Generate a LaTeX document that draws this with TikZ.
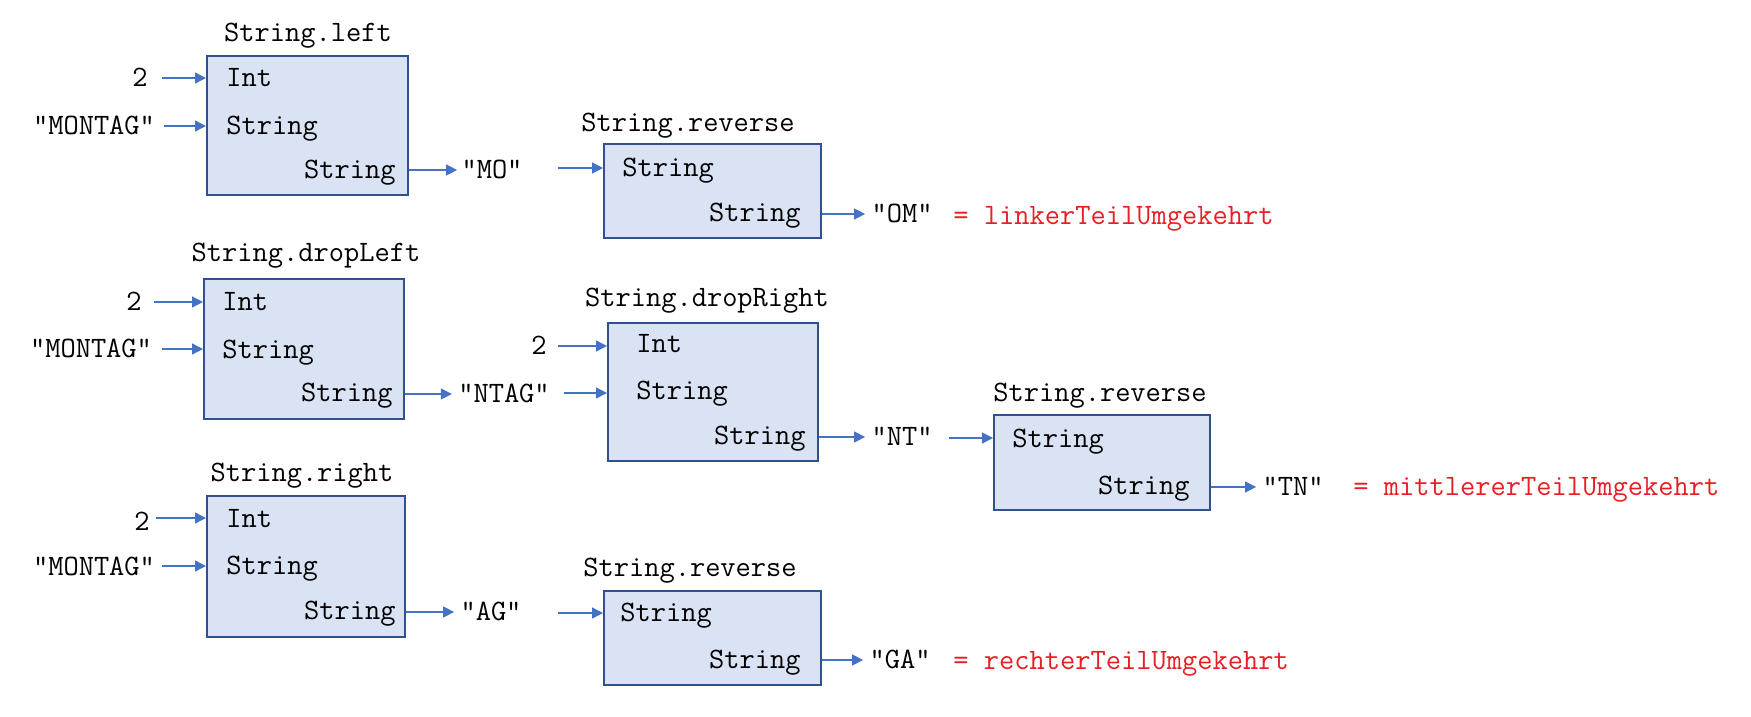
\documentclass[tikz,border=0pt]{standalone}
\usepackage{fontspec}
\usetikzlibrary{arrows.meta,fit}
\definecolor{boxfill}{RGB}{218,227,243}
\definecolor{boxline}{RGB}{47,82,143}
\definecolor{arrcol}{RGB}{68,114,196}
\definecolor{redtxt}{RGB}{232,30,36}
\begin{document}
\begin{tikzpicture}[x=0.5pt,y=-0.5pt,
  box/.style={draw=boxline, fill=boxfill, line width=1pt, inner sep=0pt},
  lbl/.style={inner sep=0pt, font=\ttfamily\fontsize{14.8}{17}\selectfont, text height=11.4pt, text depth=2.6pt},
  res/.style={lbl, text=redtxt, anchor=west},
  arr/.style={draw=arrcol, line width=0.7pt, -{Triangle[length=5.5pt,width=5.5pt]}}]
\useasboundingbox (0,0) rectangle (1751,717);

% ---------- Row 1 ----------
\node[box, fit={(207,56)(408,195)}] (b1) {};
\node[lbl] (t1) at (308,33) {String.left};
\node[lbl] (i1) at (140,78) {2};
\node[lbl] (m1) at (94,126) {"MONTAG"};
\node[lbl,anchor=west] (p1a) at (226,78) {Int};
\node[lbl,anchor=west] (p1b) at (226,126) {String};
\node[lbl,anchor=east] (p1c) at (396,170) {String};
\coordinate (s1a) at (162,78);
\coordinate (s1b) at (164,126);
\draw[arr] (s1a) -- (b1.west |- s1a);
\draw[arr] (s1b) -- (b1.west |- s1b);
\node[lbl] (o1) at (492,170) {"MO"};
\draw[arr, shorten >=2pt] (b1.east |- o1) -- (o1.west);

\node[box, fit={(604,144)(821,238)}] (b2) {};
\node[lbl] (t2) at (688,123) {String.reverse};
\coordinate (s2) at (558,168);
\draw[arr] (s2) -- (b2.west |- s2);
\node[lbl,anchor=west] (p2a) at (622,168) {String};
\node[lbl,anchor=east] (p2b) at (801,213) {String};
\node[lbl] (o2) at (902,214) {"OM"};
\draw[arr, shorten >=3pt] (b2.east |- o2) -- (o2.west);
\node[res] (r1) at (953,216) {= linkerTeilUmgekehrt};

% ---------- Row 2 ----------
\node[box, fit={(204,279)(404,419)}] (b3) {};
\node[lbl] (t3) at (306,253) {String.dropLeft};
\node[lbl] (i3) at (134,302) {2};
\node[lbl] (m3) at (91,349) {"MONTAG"};
\node[lbl,anchor=west] (p3a) at (222,302) {Int};
\node[lbl,anchor=west] (p3b) at (222,350) {String};
\node[lbl,anchor=east] (p3c) at (393,393) {String};
\coordinate (s3a) at (154,302);
\coordinate (s3b) at (162,349);
\draw[arr] (s3a) -- (b3.west |- s3a);
\draw[arr] (s3b) -- (b3.west |- s3b);
\node[lbl] (o3) at (504,394) {"NTAG"};
\draw[arr, shorten >=3pt] (b3.east |- o3) -- (o3.west);

\node[box, fit={(608,323)(818,461)}] (b4) {};
\node[lbl] (t4) at (707,298) {String.dropRight};
\node[lbl] (i4) at (539,346) {2};
\coordinate (s4a) at (558,346);
\coordinate (s4b) at (564,393);
\draw[arr] (s4a) -- (b4.west |- s4a);
\draw[arr] (s4b) -- (b4.west |- s4b);
\node[lbl,anchor=west] (p4a) at (636,344) {Int};
\node[lbl,anchor=west] (p4b) at (636,391) {String};
\node[lbl,anchor=east] (p4c) at (806,436) {String};
\node[lbl] (o4) at (902,437) {"NT"};
\draw[arr, shorten >=3pt] (b4.east |- o4) -- (o4.west);

\node[box, fit={(994,415)(1210,510)}] (b5) {};
\node[lbl] (t5) at (1100,393) {String.reverse};
\coordinate (s5) at (949,438);
\draw[arr] (s5) -- (b5.west |- s5);
\node[lbl,anchor=west] (p5a) at (1012,439) {String};
\node[lbl,anchor=east] (p5b) at (1190,486) {String};
\node[lbl] (o5) at (1293,487) {"TN"};
\draw[arr, shorten >=3pt] (b5.east |- o5) -- (o5.west);
\node[res] (r2) at (1353,487) {= mittlererTeilUmgekehrt};

% ---------- Row 3 ----------
\node[box, fit={(207,496)(405,637)}] (b6) {};
\node[lbl] (t6) at (302,473) {String.right};
\node[lbl] (i6) at (142,522) {2};
\node[lbl] (m6) at (94,567) {"MONTAG"};
\node[lbl,anchor=west] (p6a) at (226,519) {Int};
\node[lbl,anchor=west] (p6b) at (226,566) {String};
\node[lbl,anchor=east] (p6c) at (396,611) {String};
\coordinate (s6a) at (156,518);
\coordinate (s6b) at (162,566);
\draw[arr] (s6a) -- (b6.west |- s6a);
\draw[arr] (s6b) -- (b6.west |- s6b);
\node[lbl] (o6) at (491,612) {"AG"};
\draw[arr, shorten >=3pt] (b6.east |- o6) -- (o6.west);

\node[box, fit={(604,591)(821,685)}] (b7) {};
\node[lbl] (t7) at (690,568) {String.reverse};
\coordinate (s7) at (558,613);
\draw[arr] (s7) -- (b7.west |- s7);
\node[lbl,anchor=west] (p7a) at (620,613) {String};
\node[lbl,anchor=east] (p7b) at (801,660) {String};
\node[lbl] (o7) at (900,660) {"GA"};
\draw[arr, shorten >=3pt] (b7.east |- o7) -- (o7.west);
\node[res] (r3) at (953,661) {= rechterTeilUmgekehrt};
\end{tikzpicture}
\end{document}
